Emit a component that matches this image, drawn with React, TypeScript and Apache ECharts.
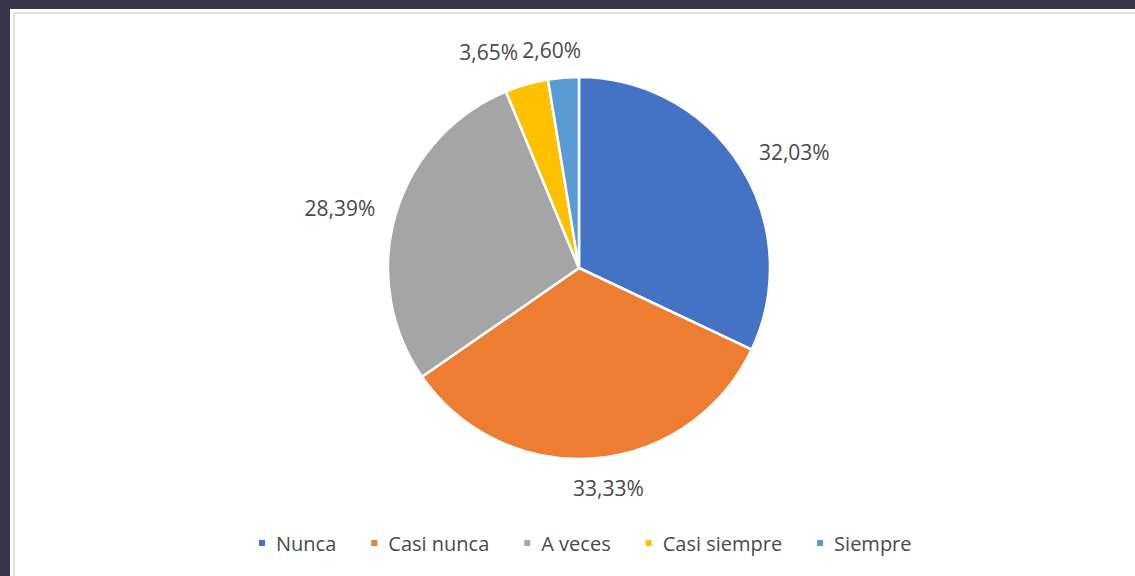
import React, { useEffect, useRef } from "react";
import * as echarts from "echarts";

const categories = ["Nunca", "Casi nunca", "A veces", "Casi siempre", "Siempre"];
const values = [32.03, 33.33, 28.39, 3.65, 2.6];
const colors = ["#4472C4", "#ED7D31", "#A5A5A5", "#FFC000", "#5B9BD5"];

// label nudges (layout only) per slice, in px
const labelShift: [number, number][] = [
  [0, -5],
  [-28, 14],
  [0, -2],
  [1, -17],
  [24, -12],
];

const FONT = "'Open Sans', 'Noto Sans', sans-serif";

export default function App() {
  const ref = useRef<HTMLDivElement>(null);
  useEffect(() => {
    if (!ref.current) return;
    const chart = echarts.init(ref.current, undefined, { renderer: "svg" });
    chart.setOption({
      animation: false,
      backgroundColor: "transparent",
      color: colors,
      legend: {
        bottom: 18,
        left: 252,
        icon: "rect",
        itemWidth: 8,
        itemHeight: 8,
        itemGap: 33,
        textStyle: { fontFamily: FONT, fontSize: 20, color: "#4a4a4a", padding: [0, 0, 0, 5] },
        data: categories,
      },
      series: [
        {
          type: "pie",
          center: [579, 268],
          radius: 191,
          startAngle: 90,
          clockwise: true,
          avoidLabelOverlap: false,
          itemStyle: { borderColor: "#fff", borderWidth: 2.5 },
          label: {
            show: true,
            position: "outside",
            fontFamily: FONT,
            fontSize: 21,
            color: "#4a4a4a",
            formatter: (p: any) => values[p.dataIndex].toFixed(2).replace(".", ",") + "%",
          },
          labelLine: { show: false, length: 16, length2: 0 },
          labelLayout: (p: any) => {
            const s = labelShift[p.dataIndex];
            return { dx: s[0], dy: s[1] };
          },
          emphasis: { disabled: true },
          data: categories.map((c, i) => ({ name: c, value: values[i] })),
        },
      ],
    });
    return () => chart.dispose();
  }, []);

  return (
    <div style={{ position: "absolute", left: 0, top: 0, width: 1135, height: 576, background: "#383547", overflow: "hidden" }}>
      <div style={{ position: "absolute", left: 10, top: 9, right: 0, bottom: 0, background: "#fff" }} />
      <div
        style={{
          position: "absolute",
          left: 13,
          top: 12,
          width: 1200,
          height: 700,
          borderTop: "2px solid #e1e1e1",
          borderLeft: "2px solid #e1e1e1",
        }}
      />
      <div ref={ref} style={{ position: "absolute", left: 0, top: 0, width: 1135, height: 576 }} />
    </div>
  );
}
